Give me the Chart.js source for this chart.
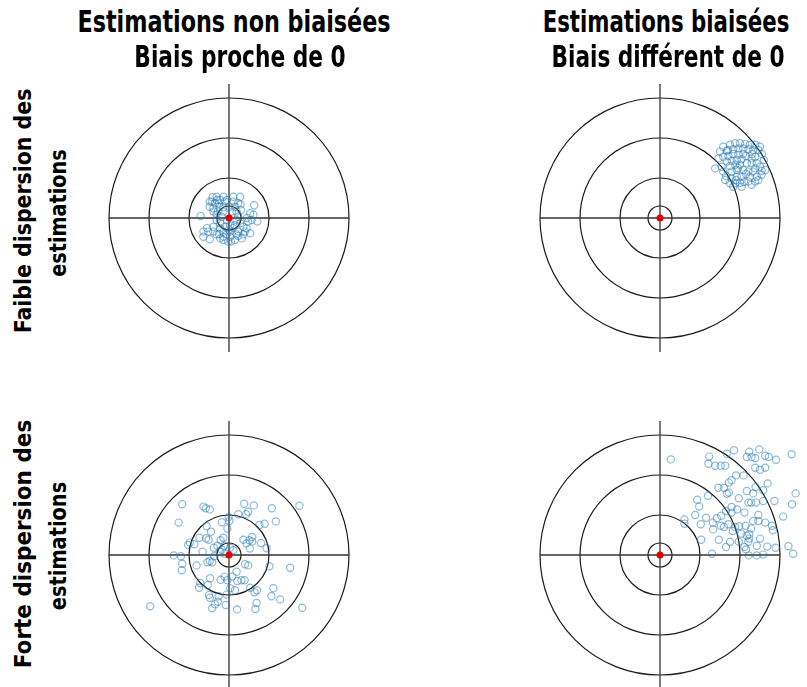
<!DOCTYPE html>
<html>
<head>
<meta charset="utf-8">
<script src="https://cdn.jsdelivr.net/npm/chart.js@4.4.1/dist/chart.umd.min.js"></script>
<style>
  html, body { margin:0; padding:0; background:#fff; width:807px; height:687px; overflow:hidden; }
  canvas { position:absolute; }
  .txt { position:absolute; white-space:nowrap; color:#000; font-weight:bold; line-height:1; }
  .title { font-family:"Liberation Sans Narrow","DejaVu Sans Condensed","DejaVu Sans",sans-serif; font-size:31px; }
  .row { font-family:"DejaVu Sans","Lato",sans-serif; font-size:23px; }
</style>
</head>
<body>
<script>
// ---------- data ----------
const colTitles = [["Estimations non biaisées", "Biais proche de 0"], ["Estimations biaisées", "Biais différent de 0"]];
const rowTitles = [["Faible dispersion des", "estimations"], ["Forte dispersion des", "estimations"]];
const ringRadii = [0.3, 1, 2, 3];
const crossHalfWidth = 3;
const crossHalfHeight = 3.35;
const trueValue = [[0, 0]];

// Faible dispersion, non biaisé
const lowUnbiased = [
 [-0.41,0.52],[-0.31,0.53],[-0.14,0.53],[0.11,0.53],[0.28,0.53],[-0.22,0.45],[-0.43,0.41],[-0.35,0.37],
 [-0.1,0.41],[0.11,0.41],[0.23,0.37],[0.29,0.34],[0.63,0.32],[-0.48,0.28],[-0.39,0.24],[-0.24,0.28],
 [-0.14,0.27],[0.01,0.28],[0.15,0.28],[-0.39,0.16],[-0.28,0.16],[-0.14,0.16],[0.07,0.16],[0.19,0.16],
 [-0.31,0.08],[-0.18,0.03],[-0.71,0.05],[0.53,0.12],[0.61,0.08],[0.57,-0.05],[0.71,-0.09],[0.48,-0.09],
 [0.19,-0.05],[0.23,0.03],[-0.31,-0.05],[-0.22,-0.13],[-0.39,-0.22],[-0.22,-0.26],[-0.1,-0.22],[0.03,-0.18],
 [0.15,-0.18],[0.28,-0.13],[0.36,-0.22],[0.44,-0.26],[-0.64,-0.34],[-0.52,-0.34],[-0.39,-0.34],[-0.14,-0.34],
 [0.03,-0.34],[0.23,-0.34],[0.4,-0.34],[-0.64,-0.47],[-0.48,-0.53],[-0.31,-0.41],[-0.14,-0.47],[0.03,-0.47],
 [0.19,-0.41],[0.36,-0.41],[0.53,-0.38],[-0.14,-0.55],[-0.02,-0.59],[0.15,-0.55],[0.32,-0.51],[0.05,-0.59],
 [-0.22,-0.51],[0.23,-0.45],[-0.06,-0.41],[-0.48,0.41],[-0.05,-0.05],[-0.25,0.36],
 [-0.05,0.45],[-0.3,0.45],[0.0,-0.3],[-0.25,-0.4],[0.1,-0.25],[0.45,0.0],[-0.55,-0.25],[0.3,0.2]
];

// Faible dispersion, biaisé
const lowBiased = [
 [1.58,1.78],[1.75,1.83],[1.88,1.87],[2.0,1.87],[2.13,1.85],[2.25,1.83],[2.38,1.83],[2.5,1.78],
 [1.5,1.66],[1.67,1.68],[1.83,1.72],[1.96,1.74],[2.08,1.74],[2.21,1.72],[2.33,1.7],[2.46,1.7],
 [1.46,1.49],[1.58,1.53],[1.71,1.55],[1.83,1.6],[1.96,1.58],[2.08,1.6],[1.67,1.41],[1.79,1.43],
 [1.92,1.45],[2.04,1.47],[2.29,1.49],[2.38,1.53],[1.38,1.24],[1.54,1.28],[1.75,1.3],[1.88,1.33],
 [2.0,1.33],[2.17,1.37],[2.29,1.37],[2.42,1.37],[2.38,1.24],[2.5,1.28],[1.58,1.16],[1.79,1.16],
 [1.92,1.2],[2.08,1.2],[2.21,1.16],[2.33,1.16],[2.54,1.18],[2.63,1.2],[1.63,0.95],[1.79,0.99],
 [1.92,1.03],[2.04,1.03],[2.25,1.03],[2.42,1.03],[2.54,1.08],[1.75,0.87],[1.88,0.87],[2.0,0.88],
 [2.21,0.91],[2.38,0.91],[2.46,0.95],[1.83,0.78],[2.04,0.78],[2.29,0.83],
 [1.7,1.7],[2.15,1.55],[1.95,1.25],[2.15,1.1],[1.65,1.05],[2.3,1.6],[1.9,0.95],[2.1,0.9],[2.6,1.45],[2.55,1.6]
];

// Forte dispersion, non biaisé
const highUnbiased = [
 [-1.17,1.27],[-0.64,1.21],[-0.58,1.17],[-0.48,1.14],[0.38,1.28],[0.62,1.24],[1.07,1.17],[1.76,1.23],
 [-1.26,0.81],[-0.18,0.82],[-0.01,0.95],[0.01,0.85],[0.23,1.02],[0.43,1.02],[0.48,1.08],[0.76,0.75],
 [0.89,0.78],[1.17,0.84],[-0.56,0.72],[-0.45,0.58],[-0.04,0.66],[-0.98,0.31],[-1.02,0.25],[-0.74,0.43],
 [-0.87,0.27],[-0.66,0.08],[-0.57,0.42],[-0.51,0.38],[-0.38,0.18],[-0.29,0.23],[-0.21,0.37],[-0.14,0.43],
 [-0.12,0.23],[-0.18,0.13],[-0.23,0.08],[0.03,0.18],[0.11,0.12],[0.36,0.38],[0.44,0.29],[0.51,0.37],
 [0.58,0.45],[0.58,0.34],[0.52,0.16],[0.8,0.3],[0.94,0.17],[-1.38,-0.01],[-1.2,-0.03],[-1.17,-0.22],
 [-1.18,-0.38],[-0.81,-0.26],[-0.54,-0.18],[-0.48,-0.15],[-0.42,-0.18],[-0.37,-0.03],[-0.11,0.03],[0.4,-0.23],
 [0.48,-0.26],[1.01,-0.28],[1.53,-0.32],[-0.47,-0.58],[-0.21,-0.62],[-0.11,-0.54],[-0.04,-0.63],[0.08,-0.54],
 [0.19,-0.42],[0.21,-0.65],[0.31,-0.63],[0.39,-0.63],[-0.72,-0.7],[-0.75,-0.82],[-0.53,-0.75],[0.03,-0.83],
 [0.15,-0.88],[0.53,-0.82],[0.64,-0.93],[0.7,-0.88],[1.11,-0.83],[1.06,-1.03],[1.28,-1.11],[-0.5,-1.0],
 [-0.48,-1.07],[-0.26,-1.03],[-0.06,-0.99],[-0.28,-1.17],[-0.35,-1.23],[-0.42,-1.33],[-0.08,-1.25],[0.69,-1.2],
 [0.66,-1.35],[0.2,-1.36],[1.83,-1.32],[-1.97,-1.28]
];

// Forte dispersion, biaisé
const highBiased = [
 [0.27,2.39],[1.23,2.46],[1.21,2.28],[1.38,2.23],[1.52,2.23],[1.63,2.23],[1.67,2.53],[1.85,2.62],
 [2.23,2.58],[2.17,2.45],[2.29,2.45],[2.38,2.42],[2.48,2.64],[2.63,2.48],[2.72,2.45],[2.9,2.38],
 [3.29,2.52],[2.38,2.18],[2.5,2.13],[2.63,2.18],[1.9,1.99],[2.09,1.99],[1.72,1.81],[1.79,1.87],
 [1.46,1.68],[1.6,1.68],[1.67,1.53],[1.72,1.56],[2.17,1.6],[2.33,1.54],[2.39,1.7],[2.58,1.62],
 [2.69,1.79],[2.86,1.35],[3.39,1.54],[3.3,1.27],[0.93,1.38],[1.2,1.48],[0.98,1.21],[0.88,1.0],
 [0.61,0.89],[0.61,0.78],[1.02,0.77],[1.15,0.93],[1.32,0.81],[1.33,0.64],[1.42,0.92],[1.53,0.98],
 [1.65,1.1],[1.79,1.2],[1.79,1.06],[1.93,1.14],[2.11,1.06],[1.97,1.42],[2.21,1.31],[2.28,1.31],
 [2.4,1.31],[2.58,1.35],[2.46,1.0],[2.33,0.85],[2.46,0.85],[2.63,0.81],[2.8,0.73],[2.82,0.62],
 [3.08,0.96],[1.52,0.73],[1.6,0.7],[1.71,0.77],[1.82,0.6],[1.88,0.7],[1.98,0.72],[2.14,0.73],
 [2.28,0.66],[1.03,0.38],[1.47,0.38],[1.75,0.33],[1.97,0.33],[2.17,0.48],[2.23,0.41],[2.5,0.41],
 [2.21,0.33],[1.65,0.2],[2.11,0.2],[2.15,0.14],[2.42,0.23],[2.68,0.21],[2.89,0.18],[3.21,0.22],
 [3.33,0.03],[1.3,0.03],[2.22,-0.01],[2.42,-0.01],[2.58,0.01],[2.03,0.53],[2.23,0.52]
];

// ---------- layout ----------
const panels = [
  { data: lowUnbiased,  cx: 229, cy: 218 },
  { data: lowBiased,    cx: 660, cy: 218 },
  { data: highUnbiased, cx: 229, cy: 555 },
  { data: highBiased,   cx: 660, cy: 555 }
];
const SIZE = 300, PAD = 10, HALF = 3.5;

const ringsPlugin = {
  id: 'rings',
  beforeDatasetsDraw(chart) {
    const ctx = chart.ctx, xs = chart.scales.x, ys = chart.scales.y;
    const x0 = xs.getPixelForValue(0), y0 = ys.getPixelForValue(0);
    ctx.save();
    ctx.strokeStyle = '#1a1a1a';
    ctx.lineWidth = 1.2;
    ringRadii.forEach(r => {
      const rp = xs.getPixelForValue(r) - x0;
      ctx.beginPath();
      ctx.arc(x0, y0, rp, 0, Math.PI * 2);
      ctx.stroke();
    });
    ctx.restore();
  }
};

const toPts = arr => arr.map(p => ({ x: p[0], y: p[1] }));

panels.forEach(p => {
  const c = document.createElement('canvas');
  c.width = SIZE; c.height = SIZE;
  c.style.left = (p.cx - SIZE / 2) + 'px';
  c.style.top = (p.cy - SIZE / 2) + 'px';
  document.body.appendChild(c);
  new Chart(c, {
    type: 'scatter',
    data: {
      datasets: [
        { data: toPts(trueValue), pointRadius: 3.5, pointBackgroundColor: '#e00000', pointBorderColor: '#e00000', pointBorderWidth: 0, clip: false },
        { data: toPts(p.data), pointRadius: 3.6, pointBorderWidth: 1.2, pointBorderColor: 'rgba(31,119,180,0.5)', pointBackgroundColor: 'rgba(0,0,0,0)', clip: false },
        { type: 'line', data: [{ x: -crossHalfWidth, y: 0 }, { x: crossHalfWidth, y: 0 }], borderColor: '#333', borderWidth: 1.3, pointRadius: 0, clip: false },
        { type: 'line', data: [{ x: 0, y: -crossHalfHeight }, { x: 0, y: crossHalfHeight }], borderColor: '#333', borderWidth: 1.3, pointRadius: 0, clip: false }
      ]
    },
    options: {
      responsive: false, animation: false, devicePixelRatio: 1,
      layout: { padding: PAD },
      plugins: { legend: { display: false }, tooltip: { enabled: false } },
      scales: {
        x: { type: 'linear', min: -HALF, max: HALF, display: false },
        y: { type: 'linear', min: -HALF, max: HALF, display: false }
      }
    },
    plugins: [ringsPlugin]
  });
});

// ---------- text ----------
function placeText(text, cls, cx, cy, targetLen, rotate) {
  const d = document.createElement('div');
  d.className = 'txt ' + cls;
  d.textContent = text;
  document.body.appendChild(d);
  const w = d.offsetWidth;
  const s = targetLen / w;
  d.style.left = cx + 'px';
  d.style.top = cy + 'px';
  d.style.transformOrigin = '0 0';
  d.style.transform = (rotate ? 'rotate(-90deg) ' : '') + 'scaleX(' + s + ') translate(-50%,-50%)';
}
placeText(colTitles[0][0], 'title', 234, 21, 313, false);
placeText(colTitles[0][1], 'title', 240, 56, 211, false);
placeText(colTitles[1][0], 'title', 666, 21, 247, false);
placeText(colTitles[1][1], 'title', 668, 56, 233, false);
placeText(rowTitles[0][0], 'row', 23, 211, 245, true);
placeText(rowTitles[0][1], 'row', 58, 213, 127, true);
placeText(rowTitles[1][0], 'row', 23, 544, 248, true);
placeText(rowTitles[1][1], 'row', 58, 546, 128, true);
</script>
</body>
</html>
